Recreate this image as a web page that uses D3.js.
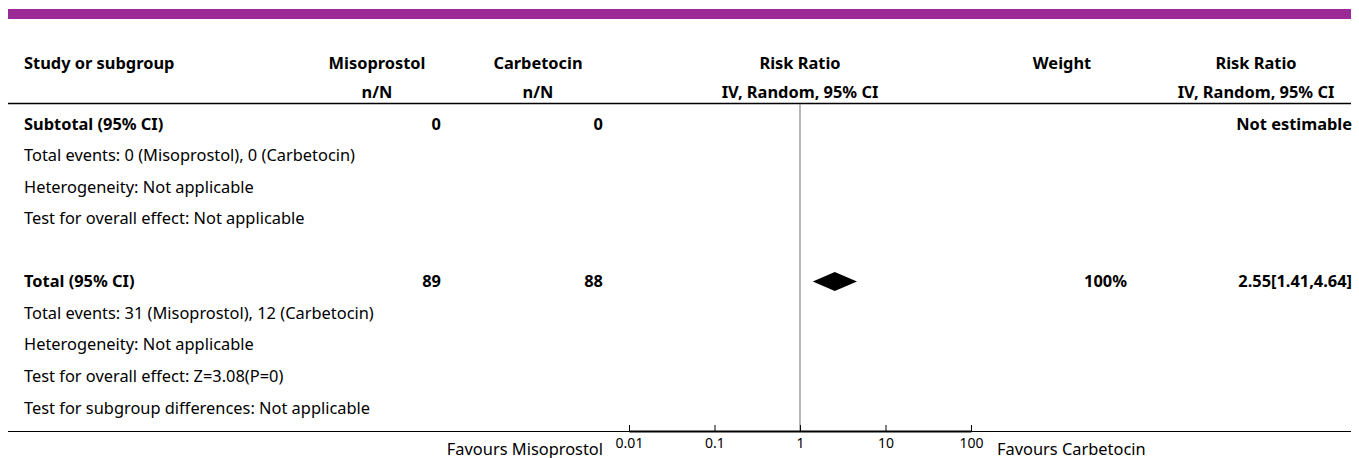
<!DOCTYPE html>
<html><head><meta charset="utf-8">
<script src="https://cdn.jsdelivr.net/npm/d3@7"></script>
<style>
body{margin:0;background:#fff;}
svg text{font-family:"Noto Sans",sans-serif;fill:#000;}
</style></head>
<body>
<svg id="chart" width="1359" height="458"></svg>
<script>
// ---- data ----
const rowLabels = [
  "Subtotal (95% CI)",
  "Total events: 0 (Misoprostol), 0 (Carbetocin)",
  "Heterogeneity: Not applicable",
  "Test for overall effect: Not applicable",
  "",
  "Total (95% CI)",
  "Total events: 31 (Misoprostol), 12 (Carbetocin)",
  "Heterogeneity: Not applicable",
  "Test for overall effect: Z=3.08(P=0)",
  "Test for subgroup differences: Not applicable"
];
const rowBold = [true,false,false,false,false,true,false,false,false,false];
const misoprostolN = ["0","","","","","89","","","",""];
const carbetocinN  = ["0","","","","","88","","","",""];
const weights      = ["","","","","","100%","","","",""];
const rrText       = ["Not estimable","","","","","2.55[1.41,4.64]","","","",""];
// pooled estimate: [estimate, lower, upper], row index
const pooled = {row:5, est:2.55, lo:1.41, hi:4.64};
const tickValues = [0.01, 0.1, 1, 10, 100];
const tickLabels = ["0.01","0.1","1","10","100"];
const favoursLeft = "Favours Misoprostol";
const favoursRight = "Favours Carbetocin";

// ---- layout ----
const svg = d3.select("#chart");
const fs = 16.4;
const x = d3.scaleLog().domain([0.01, 100]).range([629, 971]);
const rowY = d3.scaleLinear().domain([0, 9]).range([129.5, 413.5]);
const axisY = 431;

// purple banner
svg.append("rect").attr("x", 8).attr("y", 9).attr("width", 1343).attr("height", 10).attr("fill", "#9c2a96");

// headers
const hdr1 = 68.5, hdr2 = 97.5;
const head = svg.append("g").style("font-weight", "bold").style("font-size", fs + "px");
head.append("text").attr("x", 24).attr("y", hdr1).text("Study or subgroup");
const centers = [
  {x:377, a:"Misoprostol", b:"n/N"},
  {x:538, a:"Carbetocin", b:"n/N"},
  {x:800, a:"Risk Ratio", b:"IV, Random, 95% CI"},
  {x:1062, a:"Weight", b:""},
  {x:1256, a:"Risk Ratio", b:"IV, Random, 95% CI"}
];
centers.forEach(c => {
  head.append("text").attr("x", c.x).attr("y", hdr1).attr("text-anchor", "middle").text(c.a);
  head.append("text").attr("x", c.x).attr("y", hdr2).attr("text-anchor", "middle").text(c.b);
});
svg.append("line").attr("x1", 8).attr("x2", 1351).attr("y1", 103.5).attr("y2", 103.5)
  .attr("stroke", "#000").attr("stroke-width", 1.5);

// reference line at 1
svg.append("line").attr("x1", x(1)).attr("x2", x(1)).attr("y1", 104).attr("y2", axisY)
  .attr("stroke", "#888").attr("stroke-width", 1.2);

// rows
const body = svg.append("g").style("font-size", fs + "px");
rowLabels.forEach((lab, i) => {
  const y = rowY(i);
  const w = rowBold[i] ? "bold" : "normal";
  body.append("text").attr("x", 24).attr("y", y).style("font-weight", w).text(lab);
  body.append("text").attr("x", 441).attr("y", y).attr("text-anchor", "end").style("font-weight", "bold").text(misoprostolN[i]);
  body.append("text").attr("x", 603).attr("y", y).attr("text-anchor", "end").style("font-weight", "bold").text(carbetocinN[i]);
  body.append("text").attr("x", 1127).attr("y", y).attr("text-anchor", "end").style("font-weight", "bold").text(weights[i]);
  body.append("text").attr("x", 1352).attr("y", y).attr("text-anchor", "end").style("font-weight", "bold").text(rrText[i]);
});

// pooled diamond
const dy = 281.5, dh = 9.5;
svg.append("path")
  .attr("d", `M${x(pooled.lo)},${dy} L${x(pooled.est)},${dy-dh} L${x(pooled.hi)},${dy} L${x(pooled.est)},${dy+dh} Z`)
  .attr("fill", "#000");

// bottom line
svg.append("line").attr("x1", 8).attr("x2", 1351).attr("y1", axisY + 0.5).attr("y2", axisY + 0.5)
  .attr("stroke", "#000").attr("stroke-width", 1);

// axis
const axis = d3.axisBottom(x).tickValues(tickValues).tickFormat((d, i) => tickLabels[i])
  .tickSizeInner(-6).tickSizeOuter(0).tickPadding(7);
const ag = svg.append("g").attr("transform", `translate(0,${axisY})`).call(axis);
ag.attr("font-size", 14).attr("font-family", "'Noto Sans',sans-serif");
ag.select(".domain").attr("stroke", "#000").attr("stroke-width", 2);
ag.selectAll(".tick line").attr("stroke", "#000");
ag.selectAll(".tick text").style("font-size", "14px").attr("fill", "#333");

svg.append("text").attr("x", 603).attr("y", 454.5).attr("text-anchor", "end").style("font-size", "16.4px").text(favoursLeft);
svg.append("text").attr("x", 997).attr("y", 454.5).style("font-size", "16.4px").text(favoursRight);
</script>
</body></html>
